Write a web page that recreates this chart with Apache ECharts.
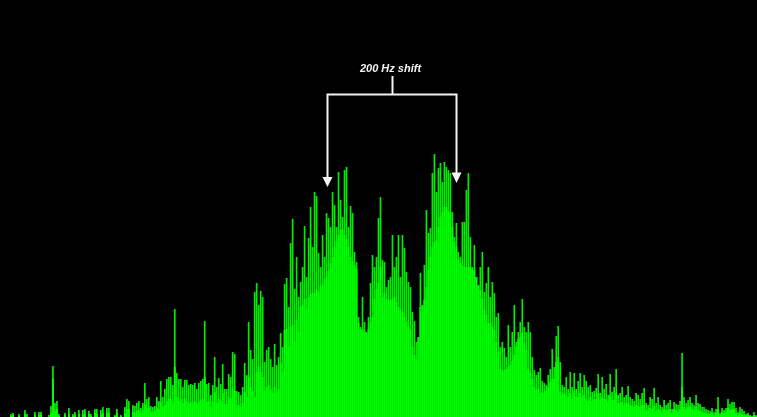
<!DOCTYPE html>
<html><head><meta charset="utf-8">
<style>html,body{margin:0;padding:0;background:#000}#c{width:757px;height:417px}</style>
<script src="https://cdn.jsdelivr.net/npm/echarts@6/dist/echarts.min.js"></script>
</head><body><div id="c"></div>
<script>
const spikes = [
0,0,0,0,0,3,4,0,0,3,
0,0,7,3,0,0,0,5,0,5,
5,0,0,0,2,11,51,14,16,3,
0,0,4,0,9,0,3,5,0,7,
0,7,8,0,6,3,0,8,8,0,
7,10,0,9,9,0,0,2,8,0,
2,0,10,18,16,0,12,11,14,16,
9,14,34,18,20,11,10,11,20,16,
36,20,28,38,40,40,32,108,44,38,
38,30,37,37,32,33,32,34,28,34,
36,38,96,33,34,22,32,60,30,39,
33,53,28,28,43,40,65,63,26,25,
22,30,54,42,95,67,58,125,134,112,
126,120,55,67,70,58,50,73,52,60,
84,70,133,139,110,174,198,128,160,120,
135,150,191,140,179,210,170,225,221,164,
150,182,160,204,199,190,225,212,190,245,
217,200,247,250,190,211,204,165,155,100,
90,120,95,85,100,134,162,150,160,199,
220,157,155,130,137,140,182,150,160,182,
140,182,169,145,135,130,105,96,75,79,
144,105,152,207,184,189,244,263,225,249,
254,235,255,250,247,244,205,180,194,165,
160,195,195,227,244,180,150,172,140,130,
150,165,125,134,150,120,135,124,100,104,
70,75,69,60,92,70,85,112,75,85,
95,118,90,85,95,85,60,47,42,45,
49,36,34,32,42,48,68,50,81,91,
55,32,30,40,28,45,30,44,28,36,
44,30,42,36,30,32,25,26,29,43,
24,40,28,33,22,43,25,30,48,22,
24,30,20,22,31,20,18,16,24,22,
18,24,29,14,12,20,18,29,14,20,
12,10,17,12,14,17,8,15,13,12,
16,64,20,14,17,20,14,12,22,14,
13,10,10,8,7,6,9,5,8,20,
4,9,7,9,18,13,15,15,9,5,
10,8,6,3,4,2,1,5,2];
const body = [
0,0,0,0,0,1,2,0,0,1,
0,0,3,0,0,0,0,2,0,2,
2,0,0,0,0,4,38,6,8,1,
0,0,2,0,3,0,1,2,0,3,
0,3,3,0,3,1,0,4,3,0,
3,4,0,4,4,0,0,1,4,0,
1,0,4,8,8,0,5,4,6,7,
4,7,12,9,9,5,5,6,9,8,
15,10,12,16,18,18,14,50,20,16,
18,14,18,16,14,15,14,16,13,15,
17,18,40,15,16,10,15,25,14,18,
16,24,13,13,20,18,28,26,12,12,
10,14,25,20,40,30,26,20,45,50,
45,40,26,30,32,28,24,30,25,28,
54,45,87,88,70,90,92,75,97,85,
110,112,118,108,120,122,124,124,127,125,
130,132,138,140,146,154,160,170,176,182,
187,188,182,178,170,160,156,152,148,94,
87,88,86,84,88,95,100,118,128,134,
150,120,124,118,117,117,118,120,115,110,
107,105,100,96,90,87,70,62,58,80,
110,112,117,130,147,160,170,175,177,190,
200,205,210,210,206,204,190,175,170,158,
154,152,150,150,150,150,148,147,140,132,
127,118,107,102,94,94,90,87,75,65,
48,45,47,48,50,52,56,62,70,78,
80,84,74,67,48,44,38,30,27,28,
24,25,24,26,30,35,38,38,55,60,
25,22,24,22,20,24,18,26,20,20,
24,20,22,18,16,20,16,18,18,24,
17,20,18,18,15,22,17,17,24,14,
14,15,12,14,14,12,11,10,12,11,
10,12,12,7,6,9,8,11,6,8,
7,4,8,6,7,8,4,8,7,5,
8,30,10,8,10,11,8,7,10,7,
6,5,4,4,3,3,4,2,4,8,
2,5,4,5,9,7,8,8,4,2,
4,3,2,1,2,1,0,2,1];
const bins = spikes.map((_, i) => i);
const label = "200 Hz shift";
const white = "#f4f4f4";

const chart = echarts.init(document.getElementById('c'), null, {renderer:'canvas'});
chart.setOption({
  backgroundColor:'#000',
  animation:false,
  grid:{left:0,right:0,top:0,bottom:0},
  xAxis:[
    {type:'category',data:bins,show:false},
    {type:'category',data:bins,show:false}
  ],
  yAxis:{type:'value',min:0,max:417,show:false},
  series:[
    {type:'bar',xAxisIndex:0,data:spikes,barWidth:1.7,itemStyle:{color:'#00ee00'},silent:true},
    {type:'bar',xAxisIndex:1,data:body,barWidth:'100%',itemStyle:{color:'#00ff00'},silent:true}
  ],
  graphic:[
    {type:'polyline',silent:true,shape:{points:[[327.5,178],[327.5,94.5],[456.5,94.5],[456.5,174]]},style:{stroke:white,lineWidth:2,fill:null}},
    {type:'line',silent:true,shape:{x1:392.5,y1:76,x2:392.5,y2:94},style:{stroke:white,lineWidth:2}},
    {type:'polygon',silent:true,shape:{points:[[322.5,177],[332.5,177],[327.5,187]]},style:{fill:white}},
    {type:'polygon',silent:true,shape:{points:[[451.5,172.5],[461.5,172.5],[456.5,183]]},style:{fill:white}},
    {type:'text',silent:true,x:390.5,y:69,style:{text:label,fill:white,font:'italic bold 11px "Liberation Sans"',textAlign:'center',textVerticalAlign:'middle'}}
  ]
});
</script></body></html>
